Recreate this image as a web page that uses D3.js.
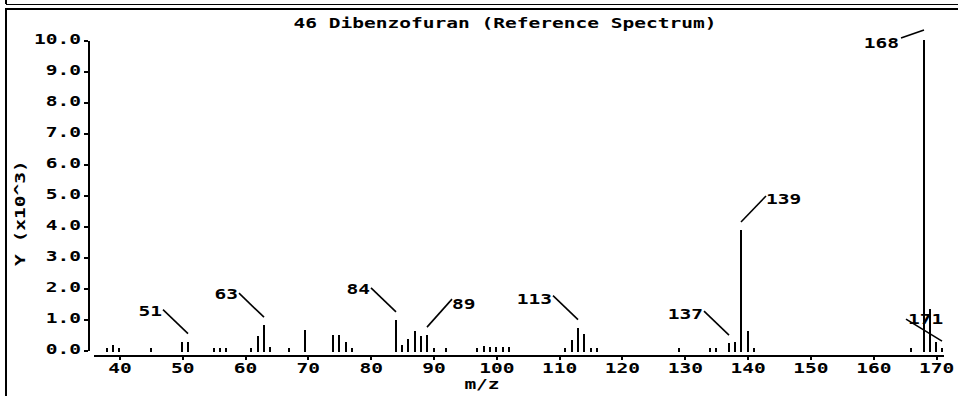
<!DOCTYPE html>
<html>
<head>
<meta charset="utf-8">
<script src="https://cdn.jsdelivr.net/npm/d3@7"></script>
<style>
  html, body { margin: 0; padding: 0; background: #fff; overflow: hidden; }
  svg text { font-family: "DejaVu Sans Mono", "Liberation Mono", monospace; font-weight: bold; fill: #000; }
</style>
</head>
<body>
<div id="chart"></div>
<script>
// Spectrum data (m/z vs intensity, in units of 10^3)
const mzValues = [38, 39, 40, 45, 50, 51, 55, 56, 57, 61, 62, 63, 64, 67, 69.5,
    74, 75, 76, 77, 84, 85, 86, 87, 88, 89, 90, 92, 97, 98, 99, 100, 101, 102,
    111, 112, 113, 114, 115, 116, 129, 134, 135, 137, 138, 139, 140, 141,
    166, 168, 169, 170, 171];
const intensities = [0.07, 0.15, 0.07, 0.05, 0.27, 0.27, 0.07, 0.07, 0.07, 0.07, 0.45, 0.8, 0.1, 0.05, 0.63,
    0.48, 0.48, 0.25, 0.07, 0.97, 0.16, 0.35, 0.6, 0.45, 0.48, 0.06, 0.06, 0.06, 0.12, 0.1, 0.1, 0.1, 0.1,
    0.08, 0.33, 0.72, 0.53, 0.08, 0.06, 0.06, 0.06, 0.06, 0.22, 0.27, 3.87, 0.6, 0.06,
    0.06, 10.0, 1.32, 0.27, 0.06];
const labeledPeaks = [51, 63, 84, 89, 113, 137, 139, 168, 171];
const xTickValues = [40, 50, 60, 70, 80, 90, 100, 110, 120, 130, 140, 150, 160, 170];
const yTickValues = [0, 1, 2, 3, 4, 5, 6, 7, 8, 9, 10];
const titleText = "46 Dibenzofuran (Reference Spectrum)";
const xLabelText = "m/z";
const yLabelText = "Y (x10^3)";

// Leader line layout per label: far end offset from the near end, and where the text sits
const leaderLayout = {
    51:  { gap: 8,  dx: -25, dy: -24, anchor: "end",   tx: -1, ty: 6 },
    63:  { gap: 8,  dx: -25, dy: -24, anchor: "end",   tx: -1, ty: 6 },
    84:  { gap: 8,  dx: -25, dy: -24, anchor: "end",   tx: -1, ty: 6 },
    89:  { gap: 8,  dx: 25,  dy: -28, anchor: "start", tx: 0,  ty: 10 },
    113: { gap: 8,  dx: -25, dy: -24, anchor: "end",   tx: -1, ty: 8 },
    137: { gap: 8,  dx: -25, dy: -24, anchor: "end",   tx: -1, ty: 8 },
    139: { gap: 8,  dx: 25,  dy: -26, anchor: "start", tx: 0,  ty: 8 },
    168: { gap: 10, dx: -23, dy: 8,   anchor: "end",   tx: -2, ty: 10 },
    171: { gap: 7,  dx: -36, dy: -22, anchor: "start", tx: 2,  ty: 5 }
};

const W = 958, H = 396;
const CHAR_W = 11.75; // width of one glyph in the original bitmap font

// stretch text so each glyph takes the wide bitmap-font advance
function stretch(sel) {
    sel.attr("textLength", function () { return this.textContent.length * CHAR_W; })
        .attr("lengthAdjust", "spacingAndGlyphs");
}

const svg = d3.select("#chart")
    .append("svg")
    .attr("width", W)
    .attr("height", H)
    .attr("viewBox", [0, 0, W, H]);

// Panel frame (top edge of the panel above plus this panel's border)
const frame = svg.append("g").attr("stroke", "#000").attr("shape-rendering", "crispEdges");
frame.append("line").attr("x1", 6).attr("x2", W).attr("y1", 4).attr("y2", 4).attr("stroke-width", 1);
frame.append("line").attr("x1", 6).attr("x2", 6).attr("y1", 0).attr("y2", 4).attr("stroke-width", 2);
frame.append("line").attr("x1", 5).attr("x2", W).attr("y1", 9).attr("y2", 9).attr("stroke-width", 2);
frame.append("line").attr("x1", 6).attr("x2", 6).attr("y1", 9).attr("y2", H).attr("stroke-width", 2);

// Scales
const x = d3.scaleLinear().domain([35.8, 171.1]).range([93, 943]);
const y = d3.scaleLinear().domain([0, 10]).range([350, 40]);

// Y axis
const yAxis = svg.append("g")
    .attr("transform", "translate(88,0)")
    .call(d3.axisLeft(y).tickValues(yTickValues).tickFormat(d3.format(".1f"))
        .tickSize(4).tickSizeOuter(0).tickPadding(3));
yAxis.selectAll("path, line").attr("stroke", "#000").attr("stroke-width", 2).attr("shape-rendering", "crispEdges");
yAxis.selectAll("text").attr("font-size", 14).attr("dy", "0.28em").call(stretch);

// X axis
const xAxis = svg.append("g")
    .attr("transform", "translate(0,355)")
    .call(d3.axisBottom(x).tickValues(xTickValues).tickFormat(d3.format("d"))
        .tickSize(5).tickSizeOuter(0).tickPadding(3));
xAxis.selectAll("path, line").attr("stroke", "#000").attr("stroke-width", 2).attr("shape-rendering", "crispEdges");
xAxis.selectAll("text").attr("font-size", 14).call(stretch);

// Peaks
const peaks = mzValues.map((m, i) => ({ mz: m, value: intensities[i] }));
const peakTop = d => Math.min(y(d.value), y(0) - 1);

svg.append("g")
    .selectAll("line")
    .data(peaks)
    .enter().append("line")
    .attr("x1", d => Math.round(x(d.mz)))
    .attr("x2", d => Math.round(x(d.mz)))
    .attr("y1", y(0) + 1.5)
    .attr("y2", d => peakTop(d))
    .attr("stroke", "#000")
    .attr("stroke-width", 2)
    .attr("shape-rendering", "crispEdges");

// Peak labels with leader lines
const labels = peaks.filter(d => labeledPeaks.includes(d.mz)).map(d => {
    const l = leaderLayout[d.mz];
    const x0 = Math.round(x(d.mz)), y0 = peakTop(d) - l.gap;
    return { ...d, l, x0, y0, x1: x0 + l.dx, y1: y0 + l.dy };
});

const labelGroup = svg.append("g");
labelGroup.selectAll("line")
    .data(labels)
    .enter().append("line")
    .attr("x1", d => d.x0).attr("y1", d => d.y0)
    .attr("x2", d => d.x1).attr("y2", d => d.y1)
    .attr("stroke", "#000")
    .attr("stroke-width", 1.6);

labelGroup.selectAll("text")
    .data(labels)
    .enter().append("text")
    .attr("x", d => d.x1 + d.l.tx)
    .attr("y", d => d.y1 + d.l.ty)
    .attr("text-anchor", d => d.l.anchor)
    .attr("font-size", 14)
    .text(d => d.mz)
    .call(stretch);

// Title and axis titles
svg.append("text")
    .attr("x", 505).attr("y", 28)
    .attr("text-anchor", "middle")
    .attr("font-size", 14)
    .text(titleText)
    .call(stretch);

svg.append("text")
    .attr("x", 482).attr("y", 389)
    .attr("text-anchor", "middle")
    .attr("font-size", 14)
    .text(xLabelText)
    .call(stretch);

svg.append("text")
    .attr("transform", "translate(25,213) rotate(-90)")
    .attr("text-anchor", "middle")
    .attr("font-size", 14)
    .text(yLabelText)
    .call(stretch);
</script>
</body>
</html>
